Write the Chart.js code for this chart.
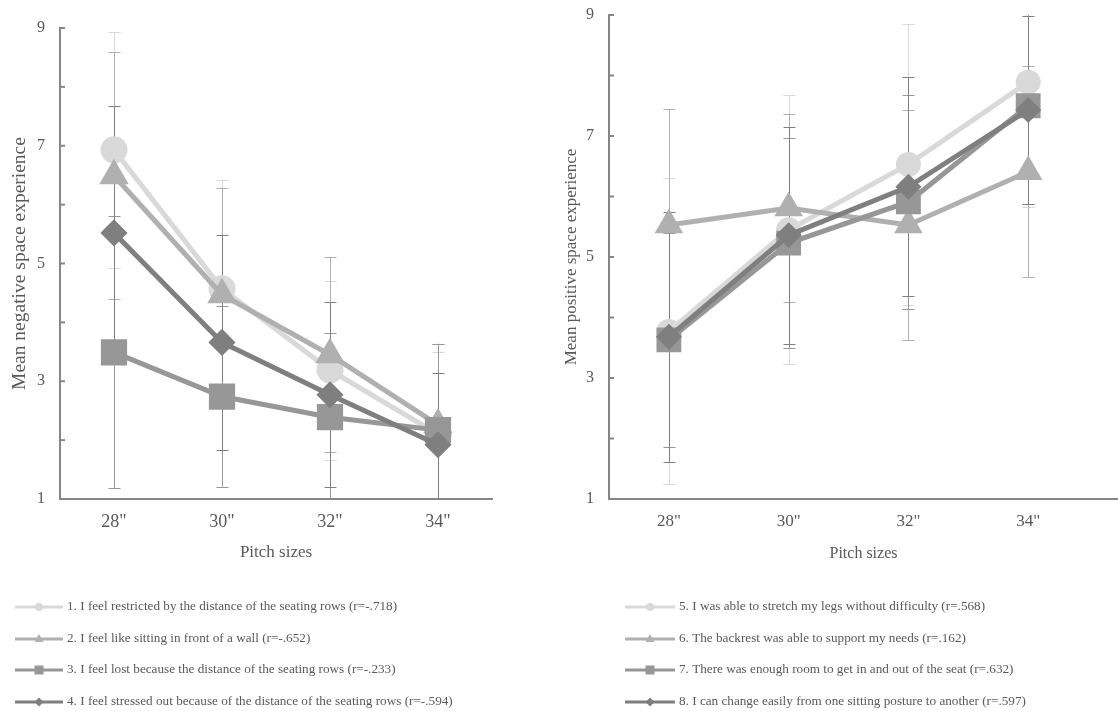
<!DOCTYPE html>
<html>
<head>
<meta charset="utf-8">
<script src="https://cdn.jsdelivr.net/npm/chart.js@4.4.0/dist/chart.umd.min.js"></script>
<style>
  html, body { margin: 0; padding: 0; background: #fff; }
  #wrap { position: relative; width: 1118px; height: 711px; overflow: hidden; }
  .box { position: absolute; }
  #boxL { left: 0; top: 0; width: 560px; height: 711px; }
  #boxR { left: 560px; top: -11px; width: 600px; height: 722px; }
</style>
</head>
<body>
<div id="wrap">
  <div class="box" id="boxL"><canvas id="negChart"></canvas></div>
  <div class="box" id="boxR"><canvas id="posChart"></canvas></div>
</div>
<script>
// categories and tick labels
const pitchSizes = ['28"', '30"', '32"', '34"'];
const yTicks = [1, 3, 5, 7, 9];

// negative items (means and standard deviations)
const negLabels = [
    '1. I feel restricted by the distance of the seating rows (r=-.718)',
    '2. I feel like sitting in front of a wall (r=-.652)',
    '3. I feel lost because the distance of the seating rows (r=-.233)',
    '4. I feel stressed out because of the distance of the seating rows (r=-.594)'
];
const neg1 = [6.93, 4.57, 3.19, 2.10];
const neg2 = [6.49, 4.47, 3.45, 2.26];
const neg3 = [3.49, 2.74, 2.39, 2.17];
const neg4 = [5.52, 3.66, 2.77, 1.92];
const neg1Sd = [2.00, 1.85, 1.52, 1.39];
const neg2Sd = [2.10, 1.82, 1.66, 1.38];
const neg3Sd = [2.31, 1.53, 1.43, 1.46];
const neg4Sd = [2.15, 1.83, 1.57, 1.22];

// positive items
const posLabels = [
    '5. I was able to stretch my legs without difficulty (r=.568)',
    '6. The backrest was able to support my needs (r=.162)',
    '7. There was enough room to get in and out of the seat (r=.632)',
    '8. I can change easily from one sitting posture to another (r=.597)'
];
const pos5 = [3.77, 5.45, 6.53, 7.89];
const pos6 = [5.53, 5.81, 5.53, 6.41];
const pos7 = [3.63, 5.23, 5.91, 7.50];
const pos8 = [3.68, 5.36, 6.16, 7.43];
const pos5Sd = [2.53, 2.22, 2.32, 2.06];
const pos6Sd = [1.91, 1.56, 1.90, 1.74];
const pos7Sd = [1.77, 1.73, 1.77, 1.62];
const pos8Sd = [2.07, 1.79, 1.81, 1.55];

const greys = ['#d9d9d9', '#b0b0b0', '#979797', '#7f7f7f'];
const styles = ['circle', 'triangle', 'rect', 'rectRot'];
const FONT = "'Liberation Serif', 'Times New Roman', serif";
const TEXT = '#595959';
const AXIS = '#868686';

// error bars + inside tick marks on the y axis
const errorBarPlugin = {
    id: 'errorBars',
    beforeDatasetsDraw(chart) {
        const ctx = chart.ctx;
        const xs = chart.scales.x, ys = chart.scales.y;
        ctx.save();
        chart.data.datasets.forEach((ds, i) => {
            ctx.strokeStyle = ds.borderColor;
            ctx.lineWidth = 1;
            ds.sd.forEach((sd, j) => {
                const x = Math.round(xs.getPixelForValue(j)) + 0.5;
                const lo = ds.means[j] - sd, hi = ds.means[j] + sd;
                const y1 = ys.getPixelForValue(Math.max(lo, ys.min));
                const y2 = ys.getPixelForValue(Math.min(hi, ys.max));
                ctx.beginPath();
                ctx.moveTo(x, y1);
                ctx.lineTo(x, y2);
                if (lo >= ys.min) { ctx.moveTo(x - 6, Math.round(y1) + 0.5); ctx.lineTo(x + 6, Math.round(y1) + 0.5); }
                if (hi <= ys.max) { ctx.moveTo(x - 6, Math.round(y2) + 0.5); ctx.lineTo(x + 6, Math.round(y2) + 0.5); }
                ctx.stroke();
            });
        });
        ctx.restore();
    },
    afterDraw(chart) {
        const ctx = chart.ctx;
        const ys = chart.scales.y;
        ctx.save();
        ctx.strokeStyle = AXIS;
        ctx.lineWidth = 2;
        ys.ticks.forEach(t => {
            const y = ys.getPixelForValue(t.value);
            ctx.beginPath();
            ctx.moveTo(ys.right, y);
            ctx.lineTo(ys.right + 5, y);
            ctx.stroke();
        });
        ctx.restore();
    }
};

function drawMarker(ctx, style, x, y) {
    ctx.beginPath();
    if (style === 'circle') {
        ctx.arc(x, y, 4, 0, Math.PI * 2);
    } else if (style === 'triangle') {
        ctx.moveTo(x, y - 5); ctx.lineTo(x + 4.5, y + 3); ctx.lineTo(x - 4.5, y + 3);
    } else if (style === 'rect') {
        ctx.rect(x - 4.5, y - 4.5, 9, 9);
    } else {
        ctx.moveTo(x, y - 4.5); ctx.lineTo(x + 4.5, y); ctx.lineTo(x, y + 4.5); ctx.lineTo(x - 4.5, y);
    }
    ctx.closePath();
    ctx.fill();
}

// legend: one item per row, line sample with marker
const rowLegendPlugin = {
    id: 'rowLegend',
    afterDraw(chart, args, opts) {
        const ctx = chart.ctx;
        ctx.save();
        ctx.font = opts.fontSize + 'px ' + FONT;
        ctx.textBaseline = 'middle';
        chart.data.datasets.forEach((ds, i) => {
            const y = Math.round(opts.top + i * opts.rowGap);
            ctx.strokeStyle = ds.borderColor;
            ctx.fillStyle = ds.borderColor;
            ctx.lineWidth = 3;
            ctx.beginPath();
            ctx.moveTo(opts.left, y);
            ctx.lineTo(opts.left + opts.lineLen, y);
            ctx.stroke();
            drawMarker(ctx, ds.pointStyle, opts.left + opts.lineLen / 2, y);
            ctx.fillStyle = TEXT;
            ctx.fillText(ds.label, opts.left + opts.lineLen + 4, y);
        });
        ctx.restore();
    }
};

function makeDatasets(labels, series, sds, radii, width) {
    return series.map((vals, i) => ({
        label: labels[i],
        data: vals.map((v, j) => ({ x: j, y: v })),
        means: vals,
        sd: sds[i],
        borderColor: greys[i],
        backgroundColor: greys[i],
        pointBackgroundColor: greys[i],
        pointBorderColor: greys[i],
        pointStyle: styles[i],
        pointRadius: radii[i],
        pointHoverRadius: radii[i],
        borderWidth: width,
        tension: 0,
        order: 4 - i
    }));
}

function makeChart(id, cfg) {
    const ctx = document.getElementById(id);
    return new Chart(ctx, {
        type: 'line',
        data: { datasets: makeDatasets(cfg.labels, cfg.series, cfg.sds, cfg.radii, 5) },
        plugins: [errorBarPlugin, rowLegendPlugin],
        options: {
            responsive: true,
            maintainAspectRatio: false,
            animation: false,
            layout: { padding: cfg.padding },
            plugins: {
                legend: { display: false },
                tooltip: { enabled: false },
                rowLegend: cfg.legend
            },
            scales: {
                x: {
                    type: 'linear',
                    min: -0.5,
                    max: cfg.xMax,
                    afterBuildTicks: s => { s.ticks = pitchSizes.map((p, i) => ({ value: i })); },
                    afterFit: s => { s.height = 66; },
                    grid: { display: false, drawTicks: false },
                    border: { color: AXIS, width: 2 },
                    ticks: {
                        color: TEXT,
                        padding: 12,
                        font: { family: FONT, size: cfg.xTickSize },
                        callback: v => pitchSizes[v]
                    },
                    title: {
                        display: true,
                        text: 'Pitch sizes',
                        color: TEXT,
                        padding: { top: 0, bottom: 2 },
                        font: { family: FONT, size: cfg.xTitleSize }
                    }
                },
                y: {
                    min: 1,
                    max: 9,
                    afterBuildTicks: s => { s.ticks = [1, 2, 3, 4, 5, 6, 7, 8, 9].map(v => ({ value: v })); },
                    afterFit: s => { s.width = cfg.yWidth; },
                    grid: { display: false, drawTicks: false },
                    border: { color: AXIS, width: 2 },
                    ticks: {
                        color: TEXT,
                        padding: cfg.yPad,
                        font: { family: FONT, size: 16 },
                        callback: v => yTicks.includes(v) ? v : ''
                    },
                    title: {
                        display: true,
                        text: cfg.yTitle,
                        color: TEXT,
                        padding: cfg.yTitlePad,
                        font: { family: FONT, size: cfg.yTitleSize }
                    }
                }
            }
        }
    });
}

makeChart('negChart', {
    labels: negLabels,
    series: [neg1, neg2, neg3, neg4],
    sds: [neg1Sd, neg2Sd, neg3Sd, neg4Sd],
    radii: [11, 12, 15, 10],
    padding: { top: 28, left: 0, right: 68, bottom: 146 },
    xMax: 3.5,
    xTickSize: 18,
    xTitleSize: 17,
    yWidth: 60,
    yPad: 15,
    yTitle: 'Mean negative space experience',
    yTitleSize: 19.5,
    yTitlePad: { top: 8, bottom: 0 },
    legend: { left: 15, top: 607, rowGap: 31.5, lineLen: 48, fontSize: 13.2 }
});

makeChart('posChart', {
    labels: posLabels,
    series: [pos5, pos6, pos7, pos8],
    sds: [pos5Sd, pos6Sd, pos7Sd, pos8Sd],
    radii: [10, 11.5, 14, 9.5],
    padding: { top: 26, left: 0, right: 42, bottom: 146 },
    xMax: 3.75,
    xTickSize: 17,
    xTitleSize: 16,
    yWidth: 49,
    yPad: 15,
    yTitle: 'Mean positive space experience',
    yTitleSize: 17,
    yTitlePad: { top: 1, bottom: 0 },
    legend: { left: 65, top: 618, rowGap: 31.5, lineLen: 50, fontSize: 13.2 }
});
</script>
</body>
</html>
